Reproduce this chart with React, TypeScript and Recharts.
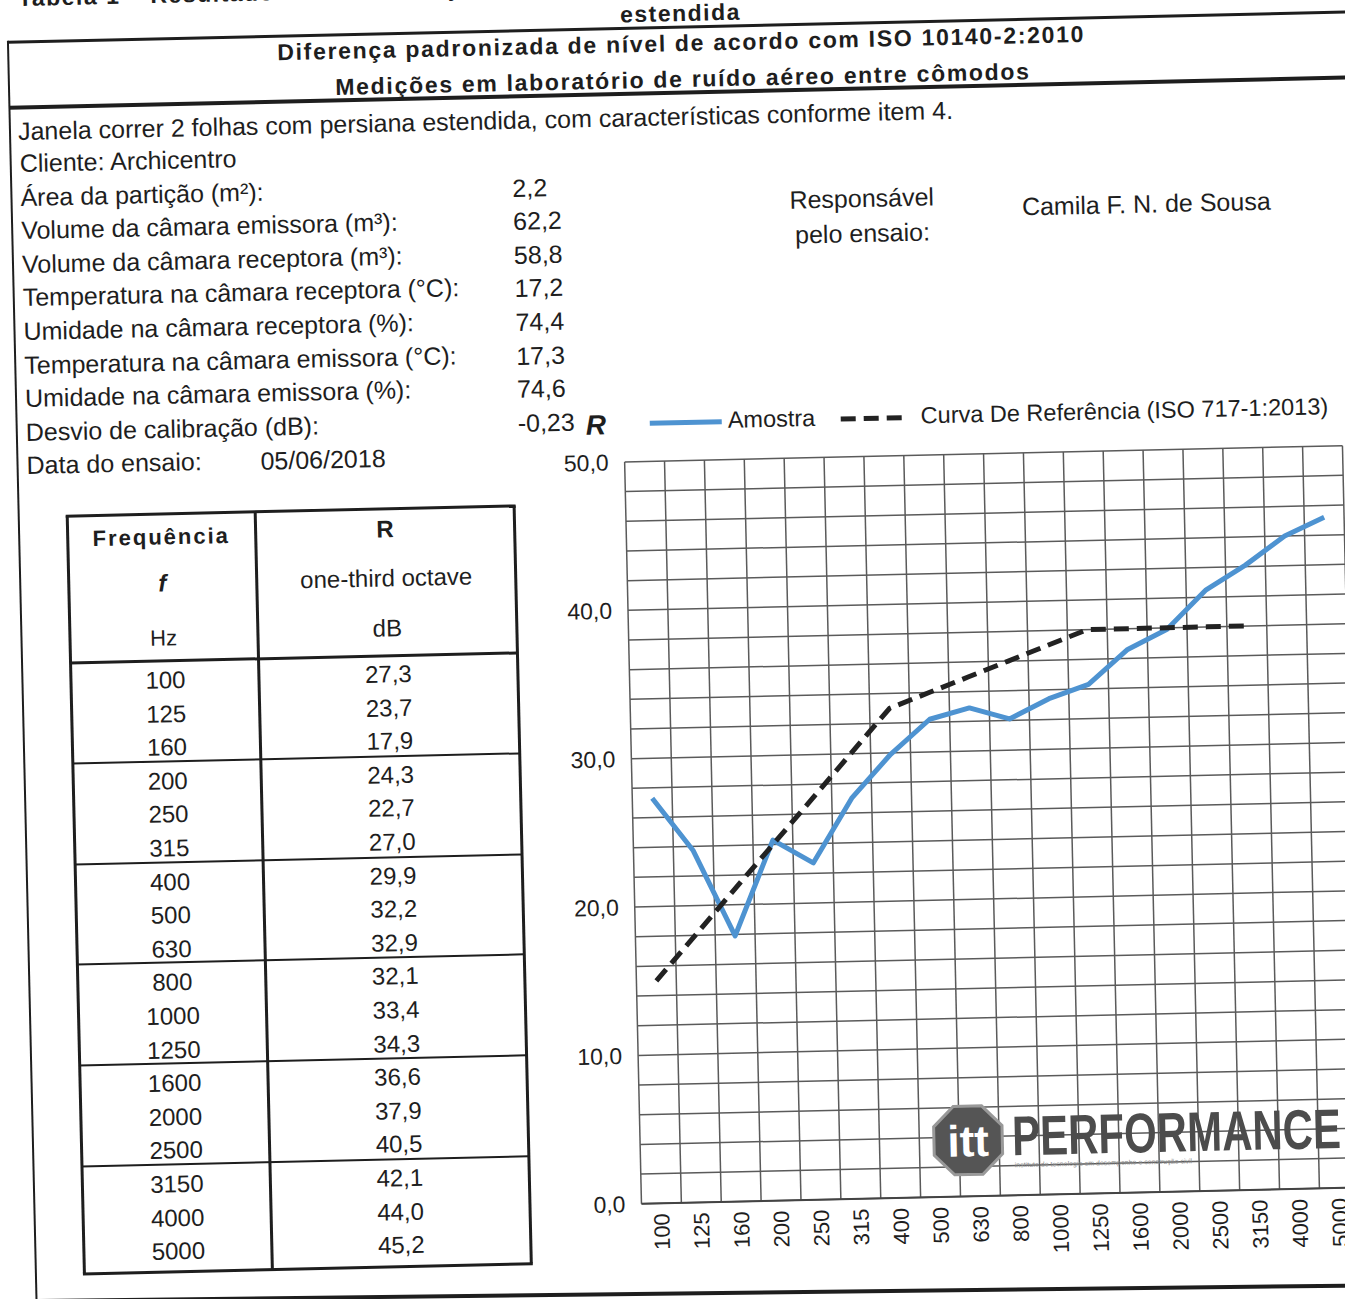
import React from 'react';
import { LineChart, Line, XAxis, YAxis, CartesianGrid } from 'recharts';

// frequências de terço de oitava (Hz)
const frequencias = ['100', '125', '160', '200', '250', '315', '400', '500', '630', '800', '1000', '1250', '1600', '2000', '2500', '3150', '4000', '5000'];
// R medido (dB)
const amostra = [27.3, 23.7, 17.9, 24.3, 22.7, 27.0, 29.9, 32.2, 32.9, 32.1, 33.4, 34.3, 36.6, 37.9, 40.5, 42.1, 44.0, 45.2];
// curva de referência ISO 717-1 deslocada (até 3150 Hz)
const referencia = [15, 18, 21, 24, 27, 30, 33, 34, 35, 36, 37, 38, 38, 38, 38, 38, null, null];
const yTicks = [0, 2, 4, 6, 8, 10, 12, 14, 16, 18, 20, 22, 24, 26, 28, 30, 32, 34, 36, 38, 40, 42, 44, 46, 48, 50];

const infoLabels = [
  'Área da partição (m²):',
  'Volume da câmara emissora (m³):',
  'Volume da câmara receptora (m³):',
  'Temperatura na câmara receptora (°C):',
  'Umidade na câmara receptora (%):',
  'Temperatura na câmara emissora (°C):',
  'Umidade na câmara emissora (%):',
  'Desvio de calibração (dB):',
];
const infoValues = ['2,2', '62,2', '58,8', '17,2', '74,4', '17,3', '74,6', '-0,23'];

const data = frequencias.map((f, i) => ({ f, amostra: amostra[i], referencia: referencia[i] }));

const FONT = '"Liberation Sans", Arial, Helvetica, sans-serif';
const INK = '#1e1e1e';
const BLUE = '#4e93d1';

const fmt = (v: number) => v.toFixed(1).replace('.', ',');

type TProps = {
  x: number; y: number; size?: number; bold?: boolean; italic?: boolean;
  anchor?: 'start' | 'middle' | 'end'; ls?: number; children: React.ReactNode;
};
const T = ({ x, y, size = 25, bold, italic, anchor = 'start', ls = 0, children }: TProps) => (
  <div
    style={{
      position: 'absolute', left: x, top: y,
      transform: `translate(${anchor === 'start' ? '0' : anchor === 'middle' ? '-50%' : '-100%'}, -50%)`,
      fontSize: size, fontWeight: bold ? 700 : 400, fontStyle: italic ? 'italic' : 'normal',
      letterSpacing: ls, lineHeight: 1, whiteSpace: 'nowrap', color: INK,
    }}
  >
    {children}
  </div>
);

const HLine = ({ x1, x2, y, w = 3 }: { x1: number; x2: number; y: number; w?: number }) => (
  <div style={{ position: 'absolute', left: x1, top: y - w / 2, width: x2 - x1, height: w, background: INK }} />
);
const VLine = ({ x, y1, y2, w = 3 }: { x: number; y1: number; y2: number; w?: number }) => (
  <div style={{ position: 'absolute', left: x - w / 2, top: y1, width: w, height: y2 - y1, background: INK }} />
);

const XTick = (props: any) => {
  const { x, y, payload } = props;
  return (
    <text x={x} y={y} transform={`rotate(-90, ${x}, ${y})`} textAnchor="end" dominantBaseline="central"
      fontSize={22} fill={INK} fontFamily={FONT}>
      {payload.value}
    </text>
  );
};

// tabela: linhas e posições
const TAB = { left: 55, right: 502, mid: 243, top: 517, head: 664, bottom: 1275, row: 33.6 };

const Grafico = () => (
  <div style={{ position: 'absolute', left: 501, top: 430 }}>
    <LineChart width={850} height={870} data={data} margin={{ top: 46, right: 19, bottom: 0, left: 0 }}>
      <CartesianGrid
        stroke="#5a5a5a"
        strokeWidth={1.5}
        verticalCoordinatesGenerator={({ offset }: any) =>
          frequencias.concat(['']).map((_, i) => offset.left + (i * offset.width) / frequencias.length)
        }
      />
      <XAxis dataKey="f" scale="band" interval={0} tickLine={false} tickSize={0} tickMargin={10}
        axisLine={{ stroke: '#444', strokeWidth: 2 }} height={82} tick={<XTick />} />
      <YAxis domain={[0, 50]} ticks={yTicks} interval={0} width={113} axisLine={false} tickLine={false}
        tickSize={0} tickMargin={16} tickFormatter={(v: number) => (v % 10 === 0 ? fmt(v) : '')}
        tick={{ fill: INK, fontSize: 23, fontFamily: FONT }} />
      <Line type="linear" dataKey="amostra" stroke={BLUE} strokeWidth={5} dot={false}
        strokeLinejoin="round" isAnimationActive={false} />
      <Line type="linear" dataKey="referencia" stroke="#222" strokeWidth={5} strokeDasharray="15 8"
        dot={false} isAnimationActive={false} />
    </LineChart>
  </div>
);

const Marca = () => (
  <svg style={{ position: 'absolute', left: 890, top: 1110 }} width={460} height={95}>
    <polygon
      points={[0, 1, 2, 3, 4, 5, 6, 7].map((k) => {
        const a = (Math.PI / 8) + (k * Math.PI) / 4;
        return `${52 + 37 * Math.cos(a)},${52 + 37 * Math.sin(a)}`;
      }).join(' ')}
      fill="#555" stroke="#999" strokeWidth={3}
    />
    <text x={52} y={68} textAnchor="middle" fontSize={44} fontWeight={700} fill="#fff" fontFamily={FONT}>itt</text>
    <text x={96} y={68} fontSize={56} fontWeight={700} fill="#4c4c4c" fontFamily={FONT}
      textLength={329} lengthAdjust="spacingAndGlyphs">PERFORMANCE</text>
    <text x={98} y={80} fontSize={7} fill="#8a8a8a" fontFamily={FONT}>
      instituto de tecnologia em desempenho e construção civil
    </text>
  </svg>
);

export default function App() {
  return (
    <div style={{ position: 'absolute', left: 0, top: 0, width: 1345, height: 1299, overflow: 'hidden', background: '#fff', fontFamily: FONT }}>
      <div style={{ position: 'absolute', left: 0, top: 0, width: 1420, height: 1420, transform: 'rotate(-1.3deg)', transformOrigin: '0 0' }}>
        {/* cabeçalho */}
        <T x={18} y={-1} size={23} bold ls={1.5}>Tabela 1 – Resultado do ensaio da janela correr 2 folhas com persiana</T>
        <T x={680} y={29} size={23} bold ls={1.5} anchor="middle">estendida</T>
        <HLine x1={7} x2={1420} y={42} w={3} />
        <T x={680} y={59} size={23} bold ls={1.7} anchor="middle">Diferença padronizada de nível de acordo com ISO 10140-2:2010</T>
        <T x={681} y={95} size={23} bold ls={1.7} anchor="middle">Medições em laboratório de ruído aéreo entre cômodos</T>
        <HLine x1={7} x2={1420} y={108} w={3.5} />
        <VLine x={7} y1={41} y2={1420} w={2.5} />
        <T x={15} y={132}>Janela correr 2 folhas com persiana estendida, com características conforme item 4.</T>

        {/* dados do ensaio */}
        <T x={16} y={164}>Cliente: Archicentro</T>
        {infoLabels.map((l, i) => (
          <T key={l} x={16} y={164 + 33.6 * (i + 1)}>{l}</T>
        ))}
        {infoValues.map((v, i) => (
          <T key={'v' + i} x={508} y={166 + 33.6 * (i + 1)}>{v}</T>
        ))}
        <T x={16} y={466}>Data do ensaio:</T>
        <T x={250} y={467}>05/06/2018</T>
        <T x={857} y={218} anchor="middle">Responsável</T>
        <T x={857} y={253} anchor="middle">pelo ensaio:</T>
        <T x={1017} y={230}>Camila F. N. de Sousa</T>

        {/* tabela */}
        <VLine x={TAB.left} y1={TAB.top} y2={TAB.bottom} />
        <VLine x={TAB.right} y1={TAB.top} y2={TAB.bottom} />
        <VLine x={TAB.mid} y1={TAB.top} y2={TAB.bottom} />
        <HLine x1={TAB.left - 1.5} x2={TAB.right + 1.5} y={TAB.top} />
        <HLine x1={TAB.left - 1.5} x2={TAB.right + 1.5} y={TAB.bottom} />
        <HLine x1={TAB.left} x2={TAB.right} y={TAB.head} />
        {[3, 6, 9, 12, 15].map((k) => (
          <HLine key={k} x1={TAB.left} x2={TAB.right} y={TAB.head + TAB.row * k} w={2} />
        ))}
        <T x={149} y={541} size={22} bold ls={2} anchor="middle">Frequência</T>
        <T x={149} y={587} size={24} bold italic anchor="middle">f</T>
        <T x={149} y={642} size={22} anchor="middle">Hz</T>
        <T x={373} y={538} size={24} bold anchor="middle">R</T>
        <T x={373} y={587} size={24} anchor="middle">one-third octave</T>
        <T x={373} y={637} size={24} anchor="middle">dB</T>
        {frequencias.map((f, i) => (
          <T key={'f' + f} x={150} y={TAB.head + TAB.row * i + 20} size={24} anchor="middle">{f}</T>
        ))}
        {amostra.map((v, i) => (
          <T key={'a' + i} x={373} y={TAB.head + TAB.row * i + 19} size={24} anchor="middle">{fmt(v)}</T>
        ))}

        {/* legenda */}
        <T x={586} y={439} size={28} bold italic anchor="middle">R</T>
        <svg style={{ position: 'absolute', left: 635, top: 425 }} width={270} height={26}>
          <line x1={5} y1={13} x2={77} y2={13} stroke={BLUE} strokeWidth={5} />
          <line x1={196} y1={13} x2={261} y2={13} stroke="#222" strokeWidth={5} strokeDasharray="15 8" />
        </svg>
        <T x={718} y={437} size={23.5}>Amostra</T>
        <T x={911} y={437} size={23.5}>Curva De Referência (ISO 717-1:2013)</T>

        <Grafico />
        <Marca />

        <svg style={{ position: 'absolute', left: -40, top: 1290 }} width={1460} height={40}>
          <line x1={0} y1={11} x2={1460} y2={27} stroke={INK} strokeWidth={4} />
        </svg>
      </div>
    </div>
  );
}
